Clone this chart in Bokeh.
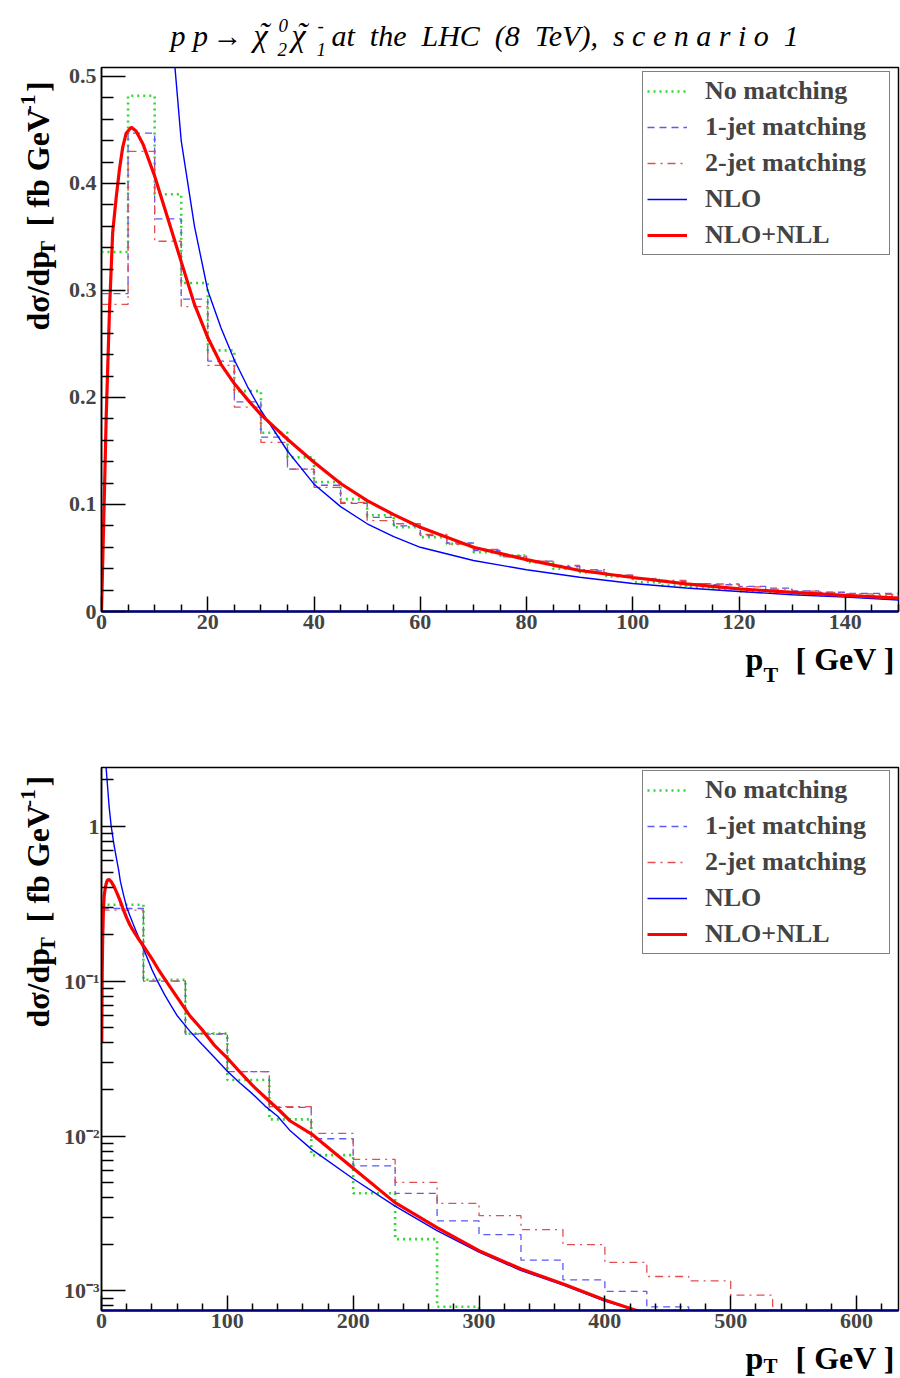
import math
from bokeh.plotting import figure
from bokeh.models import (Range1d, FixedTicker, CustomJSTickFormatter, Label,
                          Legend, LegendItem, Spacer)
from bokeh.layouts import column, row
from bokeh.embed import file_html
from bokeh.resources import INLINE

# ------------------------------------------------------------------ data
# upper panel: histograms, 5 GeV bins from 0 to 150 GeV
top_edges = [0, 5, 10, 15, 20, 25, 30, 35, 40, 45, 50, 55, 60, 65, 70, 75, 80,
             85, 90, 95, 100, 105, 110, 115, 120, 125, 130, 135, 140, 145, 150]
no_match_top = [0.336, 0.482, 0.390, 0.307, 0.244, 0.206, 0.167, 0.144, 0.121,
                0.105, 0.090, 0.0788, 0.0695, 0.0632, 0.0555, 0.0523, 0.046,
                0.040, 0.0368, 0.0327, 0.0274, 0.0243, 0.0227, 0.0212, 0.019,
                0.0182, 0.0168, 0.0154, 0.0145, 0.0145]
jet1_top = [0.297, 0.447, 0.367, 0.292, 0.234, 0.196, 0.163, 0.133, 0.118,
            0.101, 0.088, 0.080, 0.071, 0.064, 0.057, 0.052, 0.047, 0.042,
            0.038, 0.034, 0.0306, 0.028, 0.026, 0.025, 0.0234, 0.0218, 0.0193,
            0.018, 0.017, 0.017]
jet2_top = [0.287, 0.430, 0.346, 0.285, 0.230, 0.191, 0.158, 0.133, 0.116,
            0.102, 0.085, 0.082, 0.072, 0.063, 0.058, 0.051, 0.047, 0.043,
            0.039, 0.034, 0.031, 0.029, 0.026, 0.0257, 0.023, 0.021, 0.019,
            0.0178, 0.0165, 0.016]

# lower panel: histograms, 33.3 GeV bins from 0 to 633.3 GeV
bot_edges = [0, 33.33, 66.67, 100, 133.33, 166.67, 200, 233.33, 266.67, 300,
             333.33, 366.67, 400, 433.33, 466.67, 500, 533.33, 566.67, 600,
             633.33]
no_match_bot = [0.311, 0.102, 0.0458, 0.0230, 0.0128, 0.00753, 0.00427,
                0.00216, 0.00079, 0, 0, 0, 0, 0, 0, 0, 0, 0, 0]
jet1_bot = [0.294, 0.100, 0.0454, 0.026, 0.0153, 0.0096, 0.00642, 0.00427,
            0.00283, 0.00231, 0.00158, 0.00118, 0.000995, 0.00079, 0, 0, 0, 0, 0]
jet2_bot = [0.287, 0.100, 0.0458, 0.026, 0.0155, 0.0104, 0.00706, 0.00502,
            0.00368, 0.00306, 0.00249, 0.00199, 0.00153, 0.00124, 0.00116,
            0.00094, 0, 0, 0]

# NLO+NLL curve
nll_pt = [0, 0.2, 0.57, 0.88, 1.5, 2.1, 2.77, 3.4, 4.0, 4.65, 5.6, 6.5, 7.8,
          10, 12.5, 15, 17.5, 20, 22.5, 25, 27.5, 30, 35, 40, 45, 50, 55, 60,
          70, 80, 90, 100, 110, 120, 130, 140, 150, 167, 200, 233, 267, 300,
          333, 367, 400, 427]
nll_val = [0, 0.04, 0.115, 0.181, 0.281, 0.354, 0.387, 0.414, 0.434, 0.447,
           0.4525, 0.449, 0.437, 0.407, 0.367, 0.327, 0.287, 0.256, 0.231,
           0.213, 0.198, 0.184, 0.161, 0.1395, 0.1196, 0.1037, 0.0905, 0.0788,
           0.060, 0.0485, 0.0383, 0.0318, 0.0259, 0.0212, 0.0178, 0.015,
           0.0125, 0.0103, 0.0062, 0.00373, 0.00255, 0.00182, 0.00139,
           0.00111, 0.000875, 0.00074]

# NLO curve
nlo_pt = [3.3, 4, 5, 6, 7.7, 10, 11.7, 13.8, 15, 17.5, 20, 22.5, 25, 27.5, 30,
          35, 40, 45, 50, 55, 60, 70, 80, 90, 100, 110, 120, 130, 140, 150,
          167, 200, 233, 267, 300, 333, 367, 400, 427]
nlo_val = [2.6, 2.2, 1.73, 1.35, 1.0, 0.75, 0.63, 0.51, 0.44, 0.36, 0.30,
           0.265, 0.235, 0.21, 0.188, 0.150, 0.119, 0.098, 0.082, 0.070, 0.060,
           0.0477, 0.039, 0.032, 0.0262, 0.022, 0.0187, 0.0156, 0.0134,
           0.0108, 0.0082, 0.0053, 0.00354, 0.00244, 0.00178, 0.00136,
           0.00109, 0.00086, 0.00074]

legend_labels = ["No matching", "1-jet matching", "2-jet matching", "NLO",
                 "NLO+NLL"]

top_xticks = [0, 20, 40, 60, 80, 100, 120, 140]
top_yticks = [0, 0.1, 0.2, 0.3, 0.4, 0.5]
top_ylabels = ["0", "0.1", "0.2", "0.3", "0.4", "0.5"]
bot_xticks = [0, 100, 200, 300, 400, 500, 600]
bot_yticks = [0.001, 0.01, 0.1, 1]
bot_ylabels = ["10\u207b\u00b3", "10\u207b\u00b2", "10\u207b\u00b9", "1"]

# ------------------------------------------------------------------ style
SERIF = "Liberation Serif"
C_GREEN = "#33d633"
C_DBLUE = "#5a5af5"
C_DRED = "#e05050"
C_BLUE = "#0000ff"
C_RED = "#ff0000"

PAGE_W = 900
YLAB_W = 60
MAIN_W = PAGE_W - YLAB_W
ML, MR = 41, 2
MB = 28
EN = "\u2002"
K = 0.3375   # offset of the label anchor above the text baseline, in em


def text_fig(w, h):
    f = figure(width=w, height=h, x_range=Range1d(0, w), y_range=Range1d(h, 0),
               output_backend="svg", toolbar_location=None, title=None,
               min_border=0, min_border_left=0, min_border_right=0,
               min_border_top=0, min_border_bottom=0,
               x_axis_type=None, y_axis_type=None)
    f.grid.visible = False
    f.outline_line_color = None
    f.background_fill_color = "white"
    f.border_fill_color = "white"
    return f


def txt(f, x, y, s, size, style="bold"):
    """horizontal text, (x, y) = start of baseline in pixels from top-left"""
    f.add_layout(Label(x=x, y=y - K * size, text=s, text_font=SERIF,
                       text_font_size=f"{size}px", text_font_style=style,
                       text_align="left", text_baseline="alphabetic",
                       text_color="black"))


def vtxt(f, x, y, s, size, style="bold"):
    """text rotated 90 deg, x = baseline position, y = start (bottom)"""
    f.add_layout(Label(x=x - K * size, y=y, text=s, text_font=SERIF,
                       text_font_size=f"{size}px", text_font_style=style,
                       angle=math.pi / 2, text_align="left",
                       text_baseline="alphabetic", text_color="black"))


def tick_fmt(ticks, labels):
    return CustomJSTickFormatter(args=dict(tk=ticks, lb=labels), code="""
        for (let i = 0; i < tk.length; i++) {
            if (Math.abs(tk[i] - tick) <= 1e-6 * Math.max(1e-3, Math.abs(tk[i]))) return lb[i];
        }
        return "";
    """)


def steps(edges, vals, floor=None):
    ys = list(vals) + [vals[-1]]
    if floor is not None:
        ys = [v if v > floor else floor for v in ys]
    return list(edges), ys


def make_panel(log, xr, yr, mt, fh, ystand, xt, xminor, yt, ylab, yminor,
               edges, hists, curves):
    p = figure(width=MAIN_W, height=mt + fh + MB, x_range=Range1d(*xr),
               y_range=Range1d(*yr), y_axis_type="log" if log else "linear",
               output_backend="svg", toolbar_location=None, title=None,
               min_border_left=ML, min_border_right=MR, min_border_top=mt,
               min_border_bottom=MB)
    p.grid.visible = False
    p.outline_line_color = "black"
    p.outline_line_width = 1.5
    p.background_fill_color = "white"
    p.border_fill_color = "white"

    xa = p.xaxis[0]
    xa.ticker = FixedTicker(ticks=xt, minor_ticks=xminor)
    xa.major_tick_in, xa.major_tick_out = 15, 0
    xa.minor_tick_in, xa.minor_tick_out = 7, 0
    xa.major_tick_line_width = 1.5
    xa.minor_tick_line_width = 1.5
    xa.axis_line_color = "#000080"
    xa.axis_line_width = 2.5
    xa.major_label_text_font = SERIF
    xa.major_label_text_font_style = "bold"
    xa.major_label_text_font_size = "22px"
    xa.major_label_standoff = 3

    ya = p.yaxis[0]
    ya.ticker = FixedTicker(ticks=yt, minor_ticks=yminor)
    ya.formatter = tick_fmt(yt, ylab)
    ya.major_tick_in, ya.major_tick_out = 24, 0
    ya.minor_tick_in, ya.minor_tick_out = 12, 0
    ya.major_tick_line_width = 1.5
    ya.minor_tick_line_width = 1.5
    ya.axis_line_color = "black"
    ya.axis_line_width = 1.5
    ya.major_label_text_font = SERIF
    ya.major_label_text_font_style = "bold"
    ya.major_label_text_font_size = "22px"
    ya.major_label_standoff = ystand

    floor = yr[0] if log else None
    r_nm = p.step(*steps(edges, hists[0], floor), mode="after",
                  line_color=C_GREEN, line_width=2.6, line_dash="2 4")
    r_j1 = p.step(*steps(edges, hists[1], floor), mode="after",
                  line_color=C_DBLUE, line_width=1.3, line_dash="7 5")
    r_j2 = p.step(*steps(edges, hists[2], floor), mode="after",
                  line_color=C_DRED, line_width=1.3, line_dash="8 5 2 5")
    (ptn, vn), (ptl, vl) = curves
    if log:
        ptn, vn = zip(*[(a, b) for a, b in zip(ptn, vn) if b > 0])
        ptl, vl = zip(*[(a, b) for a, b in zip(ptl, vl) if b > 0])
    r_nlo = p.line(list(ptn), list(vn), line_color=C_BLUE, line_width=1.4)
    r_nll = p.line(list(ptl), list(vl), line_color=C_RED, line_width=3.2)

    items = [LegendItem(label=l, renderers=[r]) for l, r in
             zip(legend_labels, [r_nm, r_j1, r_j2, r_nlo, r_nll])]
    lg = Legend(items=items, location=(541, 356), orientation="vertical",
                label_text_font=SERIF, label_text_font_style="bold",
                label_text_font_size="26px", glyph_width=40, glyph_height=28,
                label_height=28, label_width=180, label_standoff=18,
                spacing=6, padding=4, margin=0, border_line_color="black",
                border_line_width=1.5, background_fill_color="white",
                background_fill_alpha=1.0)
    p.add_layout(lg)
    return p


def ylab_fig(h, frame_top):
    """rotated y title; positions measured from the frame top (page px)"""
    f = text_fig(YLAB_W, h)
    o = frame_top
    vtxt(f, 48, o + 273, "d\u03c3/dp", 32)
    vtxt(f, 54, o + 193, "T", 22)
    vtxt(f, 48, o + 162, "[ fb GeV", 32)
    vtxt(f, 35, o + 41, "-1", 22)
    vtxt(f, 48, o + 19, "]", 32)
    return f


def xlab_fig(h, base, sub, subsize):
    f = text_fig(PAGE_W, h)
    txt(f, 745, base, "p", 32)
    txt(f, 763, sub, "T", subsize)
    txt(f, 795, base, "[ GeV ]", 32)
    return f


top_xminor = [v for v in range(5, 151, 5) if v % 20]
top_yminor = [round(0.02 * k, 2) for k in range(26) if k % 5]
bot_xminor = [v for v in range(20, 634, 20) if v % 100]
bot_yminor = [m * 10.0 ** e for e in range(-4, 1) for m in range(2, 10)]

TITLE_H = 60
MT1, MT2 = 7, 1
p1 = make_panel(False, (0, 150), (0, 0.5084), MT1, 544, 5,
                top_xticks, top_xminor, top_yticks, top_ylabels, top_yminor,
                top_edges, [no_match_top, jet1_top, jet2_top],
                [(nlo_pt, nlo_val), (nll_pt, nll_val)])
p2 = make_panel(True, (0, 633.33), (7.48e-4, 2.39), MT2, 543, 2,
                bot_xticks, bot_xminor, bot_yticks, bot_ylabels, bot_yminor,
                bot_edges, [no_match_bot, jet1_bot, jet2_bot],
                [(nlo_pt, nlo_val), (nll_pt, nll_val)])
ROW1_H = p1.height
ROW2_H = p2.height

# chart title (with sub/superscripts)
tf = text_fig(PAGE_W, TITLE_H)
TB = 45
txt(tf, 170, TB, "p p", 30, style="italic")
txt(tf, 212, TB, "\u2192", 30, style="italic")
txt(tf, 253, TB, "\u03c7", 32, style="italic")
txt(tf, 258, TB - 2, "\u02dc", 32, style="italic")
txt(tf, 277, TB + 10, "2", 19, style="italic")
txt(tf, 278, TB - 14, "0", 19, style="italic")
txt(tf, 291, TB, "\u03c7", 32, style="italic")
txt(tf, 296, TB - 2, "\u02dc", 32, style="italic")
txt(tf, 316, TB + 10, "1", 19, style="italic")
txt(tf, 317, TB - 14, "-", 19, style="italic")
txt(tf, 331, TB, EN.join(["at", "the", "LHC", "(8", "TeV),",
                          "s c e n a r i o", "1"]), 30, style="italic")

XL1_H = 688 - (TITLE_H + ROW1_H)     # ends at y = 688
SP_H = 766 - 688
XL2_H = 1378 - (766 + ROW2_H)        # ends at the bottom of the window

layout = column(
    tf,
    row(ylab_fig(ROW1_H, MT1), p1, spacing=0),
    xlab_fig(XL1_H, 30, 42, 22),
    Spacer(width=PAGE_W, height=SP_H),
    row(ylab_fig(ROW2_H, MT2), p2, spacing=0),
    xlab_fig(XL2_H, 30, 35, 21),
    spacing=0,
)
open("out.html", "w").write(file_html(layout, INLINE))
